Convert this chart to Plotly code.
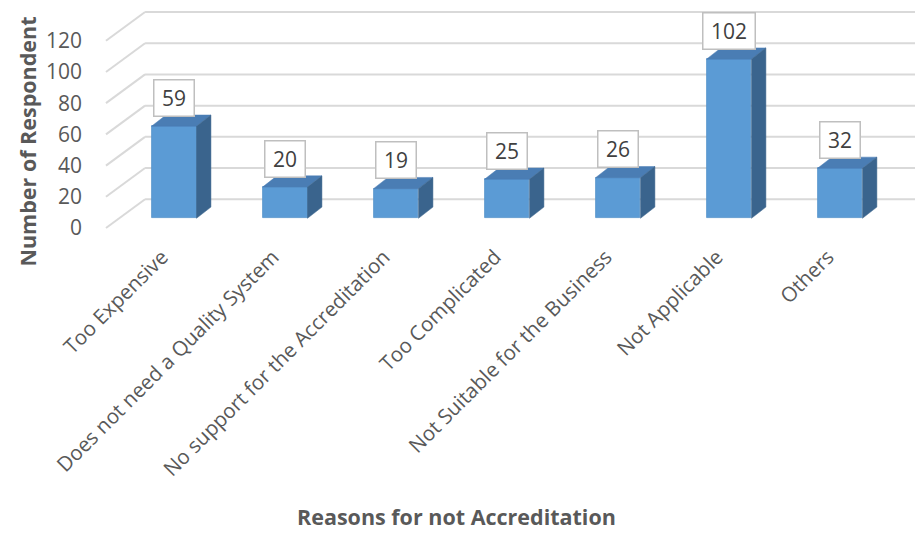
import plotly.graph_objects as go

# Survey data
categories = [
    "Too Expensive",
    "Does not need a Quality System",
    "No support for the Accreditation",
    "Too Complicated",
    "Not Suitable for the Business",
    "Not Applicable",
    "Others",
]
respondents = [59, 20, 19, 25, 26, 102, 32]
y_ticks = [0, 20, 40, 60, 80, 100, 120]

# Pseudo-3D geometry, in axis units
BAR_W = 0.405          # front face width (category units)
DEPTH_X = 0.13         # bar depth, horizontal
DEPTH_Y = 7.2          # bar depth, vertical (value units)
WALL_FRONT_Y = -6.2    # floor front edge relative to bar base
WALL_BACK_Y = 12.2     # back wall relative to bar base
WALL_FRONT_X = -0.613  # left edge of floor, front
WALL_BACK_X = -0.261   # left edge of back wall
X_RANGE = [-0.667, 6.676]
Y_RANGE = [-13.9, 139.9]

FRONT = "#5B9BD5"
TOP = "#4A7DB4"
SIDE = "#3A648D"
GRID = "#D9D9D9"
TEXT = "#595959"
FONT = "Open Sans"

xs = list(range(len(categories)))

fig = go.Figure()

# Top and side faces of each bar
for x, v in zip(xs, respondents):
    l, r = x - BAR_W / 2, x + BAR_W / 2
    fig.add_trace(go.Scatter(
        x=[l, r, r + DEPTH_X, l + DEPTH_X, l],
        y=[v, v, v + DEPTH_Y, v + DEPTH_Y, v],
        fill="toself", fillcolor=TOP, mode="lines",
        line=dict(color=TOP, width=0.5), hoverinfo="skip", showlegend=False,
    ))
    fig.add_trace(go.Scatter(
        x=[r, r + DEPTH_X, r + DEPTH_X, r, r],
        y=[0, DEPTH_Y, v + DEPTH_Y, v, 0],
        fill="toself", fillcolor=SIDE, mode="lines",
        line=dict(color=SIDE, width=0.5), hoverinfo="skip", showlegend=False,
    ))

# Front faces
fig.add_trace(go.Bar(
    x=xs, y=respondents, width=BAR_W,
    marker=dict(color=FRONT, line=dict(color="#5592CA", width=0.8)),
    hoverinfo="skip", showlegend=False,
))

# Back wall gridlines and the slanted side-wall lines
shapes = []
for t in y_ticks:
    shapes.append(dict(
        type="line", xref="x", yref="y", layer="below",
        x0=WALL_BACK_X, y0=t + WALL_BACK_Y, x1=X_RANGE[1], y1=t + WALL_BACK_Y,
        line=dict(color=GRID, width=2),
    ))
    shapes.append(dict(
        type="line", xref="x", yref="y", layer="below",
        x0=WALL_FRONT_X, y0=t + WALL_FRONT_Y, x1=WALL_BACK_X, y1=t + WALL_BACK_Y,
        line=dict(color=GRID, width=2),
    ))

# Value labels in boxes
annotations = []
for x, v in zip(xs, respondents):
    txt = str(v)
    annotations.append(dict(
        x=x, y=v + 18.3, xref="x", yref="y", text=txt, showarrow=False,
        font=dict(family=FONT, size=21, color="#404040"),
        bgcolor="white", bordercolor="#BFBFBF", borderwidth=1.5, borderpad=5,
        width=12 * len(txt) + 5, height=25, xanchor="center", yanchor="middle",
    ))

# Axis titles
annotations.append(dict(
    text="<b>Number of Respondent</b>", xref="paper", yref="paper",
    x=(27 - 100) / 815, y=(240 - 141.5) / 240, textangle=-90, showarrow=False,
    font=dict(family=FONT, size=21.5, color=TEXT), xanchor="center", yanchor="middle",
))
annotations.append(dict(
    text="<b>Reasons for not Accreditation</b>", xref="paper", yref="paper",
    x=(456 - 100) / 815, y=(240 - 533) / 240, showarrow=False,
    font=dict(family=FONT, size=21.5, color=TEXT), xanchor="center", yanchor="bottom",
))

fig.update_layout(
    width=915, height=534,
    margin=dict(l=100, r=0, t=0, b=294),
    paper_bgcolor="white", plot_bgcolor="white",
    shapes=shapes, annotations=annotations,
    bargap=0,
    xaxis=dict(
        range=X_RANGE, tickvals=xs, ticktext=categories, tickangle=-45,
        showgrid=False, zeroline=False, showline=False, ticks="",
        ticklabelshift=-12,
        tickfont=dict(family=FONT, size=20.5, color=TEXT),
        fixedrange=True,
    ),
    yaxis=dict(
        range=Y_RANGE,
        tickvals=[t + WALL_FRONT_Y for t in y_ticks],
        ticktext=[str(t) for t in y_ticks],
        showgrid=False, zeroline=False, showline=False, ticks="",
        ticklabelstandoff=17,
        tickfont=dict(family=FONT, size=21, color=TEXT),
        fixedrange=True,
    ),
)

fig.write_html("out.html")
